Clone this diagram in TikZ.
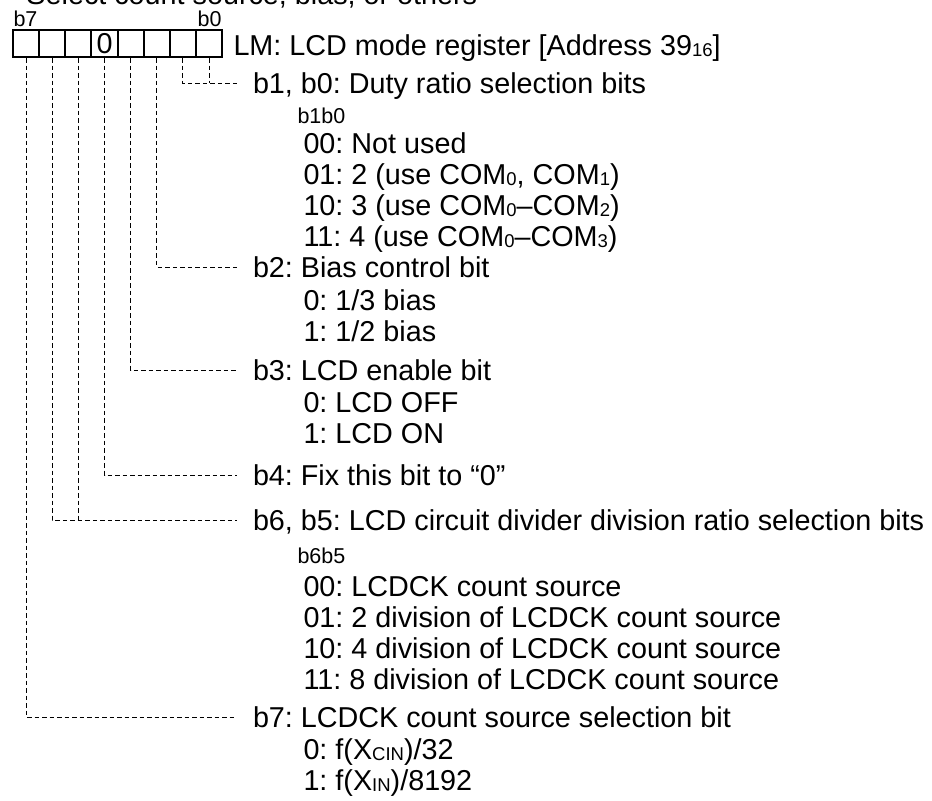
\documentclass[tikz,border=0pt]{standalone}
\usepackage{fontspec}
\setmainfont{Liberation Sans}
\frenchspacing
\newcommand{\lsub}[1]{\raisebox{-0.6pt}{\fontsize{7.4}{8}\selectfont #1}}
\tikzset{
  cell/.style={draw, line width=0.8pt, minimum width=10.45pt, minimum height=10.8pt, inner sep=0pt},
  conn/.style={draw, line width=0.4pt, dash pattern=on 1.8pt off 1.2pt},
  bitlabel/.style={anchor=west, inner xsep=6.2pt, inner ysep=0pt, text height=8.3pt, text depth=0pt},
  item/.style={anchor=base west, inner sep=0pt},
  bitsmall/.style={inner sep=0pt, font=\fontsize{8.6}{9}\selectfont}
}

\begin{document}
\begin{tikzpicture}[x=0.4pt, y=-0.4pt, font=\fontsize{11.5}{14}\selectfont]
  \useasboundingbox (0,0) rectangle (932,800);

  % Registro
  \node[item] (title) at (26, 4) {Select count source, bias, or others};
  \foreach \i in {0,...,7}
    \node[cell] (c\i) at ({209-26.125*\i}, 43.5) {};
  \node[inner sep=0pt] (zero) at (c4) {0};
  \node[bitsmall, anchor=base west] (tb7) at (13, 26) {b7};
  \node[bitsmall, anchor=base east] (tb0) at (222, 26) {b0};
  \node[item] (lm) at (233, 55) {LM: LCD mode register [Address 39\lsub{16}]};

  % Bits
  \node[bitlabel] (l10) at (237, 83) {b1, b0: Duty ratio selection bits};
  \node[bitsmall, anchor=base west] (h10) at (297, 123) {b1b0};
  \foreach \t [count=\n] in {00: Not used,
      {01: 2 (use COM\lsub{0}, COM\lsub{1})},
      10: 3 (use COM\lsub{0}–COM\lsub{2}),
      11: 4 (use COM\lsub{0}–COM\lsub{3})}
    \node[item] (d10\n) at (303, {153+31*(\n-1)}) {\t};

  \node[bitlabel] (l2) at (237, 267) {b2: Bias control bit};
  \node[item] (d21) at (303, 310) {0: 1/3 bias};
  \node[item] (d22) at (303, 341) {1: 1/2 bias};

  \node[bitlabel] (l3) at (237, 370) {b3: LCD enable bit};
  \node[item] (d31) at (303, 412) {0: LCD OFF};
  \node[item] (d32) at (303, 443) {1: LCD ON};

  \node[bitlabel] (l4) at (237, 475) {b4: Fix this bit to “0”};

  \node[bitlabel] (l65) at (237, 520) {b6, b5: LCD circuit divider division ratio selection bits};
  \node[bitsmall, anchor=base west] (h65) at (297, 563) {b6b5};
  \foreach \t [count=\n] in {00: LCDCK count source,
      01: 2 division of LCDCK count source,
      10: 4 division of LCDCK count source,
      11: 8 division of LCDCK count source}
    \node[item] (d65\n) at (303, {596+31*(\n-1)}) {\t};

  \node[bitlabel] (l7) at (237, 717) {b7: LCDCK count source selection bit};
  \node[item] (d71) at (303, 759) {0: f(X\lsub{CIN})/32};
  \node[item] (d72) at (303, 790) {1: f(X\lsub{IN})/8192};

  % Lineas
  \draw[conn] (c1.south) |- (l10.west);
  \draw[conn] (c0.south) -- (c0.south |- l10.west);
  \foreach \from/\to in {c2/l2, c3/l3, c4/l4, c6/l65, c7/l7}
    \draw[conn] (\from.south) |- (\to.west);
  \draw[conn] (c5.south) -- (c5.south |- l65.west);
\end{tikzpicture}
\end{document}
